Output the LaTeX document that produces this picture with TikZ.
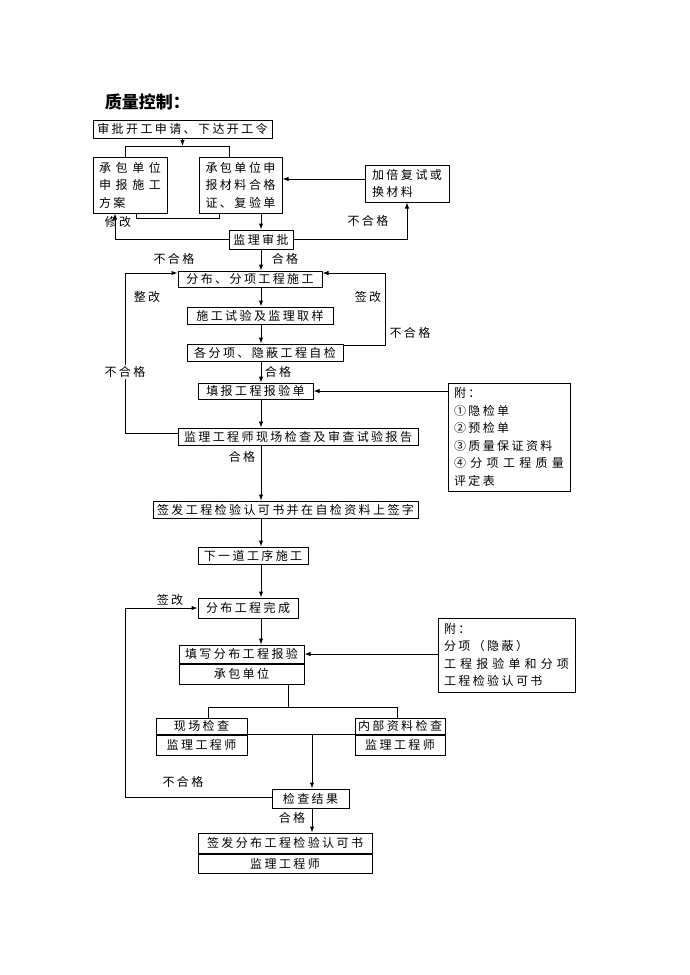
\documentclass[tikz,border=0pt]{standalone}
\usepackage{fontspec}
\setmainfont{Noto Sans CJK SC}
\newfontfamily\cn[LetterSpace=20]{Noto Sans CJK SC}
\newfontfamily\hei{Noto Sans CJK SC}
\usetikzlibrary{arrows.meta}

\newcommand\jz[2]{\hbox to #1{\jzloop#2\relax}}
\def\jzloop#1#2{#1\ifx\relax#2\else\hfill\expandafter\jzloop\expandafter#2\fi}

\begin{document}
\begin{tikzpicture}[x=1pt,y=-1pt,line width=1pt,>={Latex[length=6pt,width=4.5pt]},
  every node/.style={font=\cn\fontsize{12}{17.5}\selectfont},
  box/.style={draw,inner sep=0pt},
  note/.style={inner sep=1pt}]
    \useasboundingbox (0,0) rectangle (690,975);
    \node[anchor=west,font=\hei\fontsize{17}{17}\selectfont\bfseries] (title) at (101,102) {质量控制：};

    \node[box,minimum width=179pt,minimum height=18pt] (start) at (182.5,129) {审批开工申请、下达开工令};
    \node[box,minimum width=74pt,minimum height=56pt,align=left] (plan) at (130,185)
      {\jz{62pt}{承包单位}\\\jz{62pt}{申报施工}\\方案};
    \node[box,minimum width=83pt,minimum height=56pt,align=left] (cert) at (240.5,185)
      {\jz{70pt}{承包单位申}\\\jz{70pt}{报材料合格}\\\jz{70pt}{证、复验单}};
    \node[box,minimum width=84pt,minimum height=37pt,align=left] (redo) at (407,183.5)
      {\jz{70pt}{加倍复试或}\\换材料};
    \node[box,minimum width=64pt,minimum height=19pt] (approve) at (261,239.5) {监理审批};
    \node[box,minimum width=144pt,minimum height=16pt] (build) at (250,279) {分布、分项工程施工};
    \node[box,minimum width=146pt,minimum height=17pt] (sample) at (260,315.5) {施工试验及监理取样};
    \node[box,minimum width=156pt,minimum height=17pt] (self) at (265,352.5) {各分项、隐蔽工程自检};
    \node[box,minimum width=115pt,minimum height=16pt] (report) at (255.5,391) {填报工程报验单};
    \node[box,minimum width=122pt,minimum height=108pt,align=left] (attach1) at (509,437)
      {附：\\①隐检单\\②预检单\\③质量保证资料\\\jz{110pt}{④分项工程质量}\\评定表};
    \node[box,minimum width=240pt,minimum height=17pt] (inspect) at (298,436.5) {监理工程师现场检查及审查试验报告};
    \node[box,minimum width=265pt,minimum height=17pt] (sign) at (285.5,509.5) {签发工程检验认可书并在自检资料上签字};
    \node[box,minimum width=110pt,minimum height=17pt] (next) at (253,555.5) {下一道工序施工};
    \node[box,minimum width=100pt,minimum height=20pt] (done) at (248,608) {分布工程完成};
    \node[box,minimum width=125pt,minimum height=18pt] (fill) at (241.5,654) {填写分布工程报验};
    \node[box,minimum width=125pt,minimum height=20pt,anchor=north] (fillsub) at (fill.south) {承包单位};
    \node[box,minimum width=137pt,minimum height=74pt,align=left] (attach2) at (506.5,655)
      {附：\\分项（隐蔽）\\\jz{125pt}{工程报验单和分项}\\工程检验认可书};
    \node[box,minimum width=91pt,minimum height=16pt] (site) at (201.5,726) {现场检查};
    \node[box,minimum width=91pt,minimum height=20pt,anchor=north] (sitesub) at (site.south) {监理工程师};
    \node[box,minimum width=90pt,minimum height=16pt] (docs) at (400,726) {内部资料检查};
    \node[box,minimum width=90pt,minimum height=20pt,anchor=north] (docssub) at (docs.south) {监理工程师};
    \node[box,minimum width=77pt,minimum height=19pt] (result) at (310.5,798.5) {检查结果};
    \node[box,minimum width=174pt,minimum height=20pt] (issue) at (285,843) {签发分布工程检验认可书};
    \node[box,minimum width=174pt,minimum height=19pt,anchor=north] (issuesub) at (issue.south) {监理工程师};

    \coordinate (axis) at (261,0);
    \coordinate (brl) at (125,146);
    \coordinate (brr) at (229,146);
    \coordinate (fixl) at (136,218);
    \coordinate (fixr) at (219,218);
    \coordinate (revise) at (115,239.5);
    \coordinate (retry) at (407,239.5);
    \coordinate (ret) at (365,179);
    \coordinate (lfix) at (125,433);
    \coordinate (lfixtop) at (125,273);
    \coordinate (rfix) at (385,345);
    \coordinate (rfixtop) at (385,273);
    \coordinate (split) at (288,707);
    \coordinate (sl) at (208,707);
    \coordinate (sr) at (397,707);
    \coordinate (join) at (312,734);
    \coordinate (back) at (125,797);
    \coordinate (backtop) at (125,608);

    \draw[->] (start.south) -- (start.south |- brl);
    \draw (plan.north -| brl) -- (brl) -- (brr) -- (cert.north -| brr);
    \draw (plan.south -| fixl) -- (fixl) -- (fixr) -- (cert.south -| fixr);
    \draw[->] (approve.west) -- (revise) -- (plan.south -| revise);
    \draw[->] (approve.east) -- (retry) -- (redo.south);
    \draw[->] (ret) -- (ret -| cert.east);

    \foreach \a/\b in {cert/approve,approve/build,build/sample,sample/self,self/report,
                       report/inspect,inspect/sign,sign/next,next/done,done/fill}
      \draw[->] (\a.south -| axis) -- (\b.north -| axis);

    \draw[->] (inspect.west |- lfix) -- (lfix) -- (lfixtop) -- (build.west |- lfixtop);
    \draw[->] (self.east |- rfix) -- (rfix) -- (rfixtop) -- (build.east |- rfixtop);
    \draw[->] (attach1.west |- report.east) -- (report.east);
    \draw[->] (attach2.west |- fill.east) -- (fill.east);

    \draw (fillsub.south -| split) -- (split);
    \draw (site.north -| sl) -- (sl) -- (sr) -- (docs.north -| sr);
    \draw (site.south east) -- (docs.south west);
    \draw[->] (join) -- (join |- result.north);
    \draw[->] (result.west |- back) -- (back) -- (backtop) -- (done.west |- backtop);
    \draw[->] (result.south -| join) -- (issue.north -| join);

    \node[note] (l1) at (118,222) {修改};
    \node[note] (l2) at (368,221) {不合格};
    \node[note] (l3) at (174,259) {不合格};
    \node[note] (l4) at (285,259) {合格};
    \node[note] (l5) at (147,297) {整改};
    \node[note] (l6) at (368,297) {签改};
    \node[note] (l7) at (410,333) {不合格};
    \node[note,fill=white] (l8) at (125,372) {不合格};
    \node[note] (l9) at (278,372) {合格};
    \node[note] (l10) at (242,457) {合格};
    \node[note] (l11) at (170,600) {签改};
    \node[note] (l12) at (183,782) {不合格};
    \node[note] (l13) at (292,818) {合格};
  \end{tikzpicture}
\end{document}
